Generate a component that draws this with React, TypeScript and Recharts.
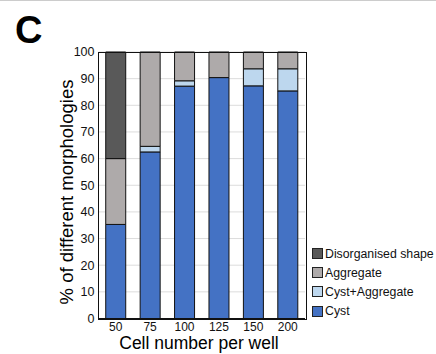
import { BarChart, Bar, XAxis, YAxis, CartesianGrid } from "recharts";

const cellNumbers = ["50", "75", "100", "125", "150", "200"];
const cyst = [35.3, 62.5, 87.2, 90.4, 87.3, 85.4];
const cystAggregate = [0, 2.1, 2, 0, 6.4, 8.3];
const aggregate = [24.7, 35.4, 10.8, 9.6, 6.3, 6.3];
const disorganised = [40, 0, 0, 0, 0, 0];
const yTicks = [0, 10, 20, 30, 40, 50, 60, 70, 80, 90, 100];

const SERIES = [
  { key: "cyst", name: "Cyst", color: "#4472C4" },
  { key: "cystAggregate", name: "Cyst+Aggregate", color: "#BDD7EE" },
  { key: "aggregate", name: "Aggregate", color: "#AEAAAA" },
  { key: "disorganised", name: "Disorganised shape", color: "#595959" },
];

const data = cellNumbers.map((c, i) => ({
  cells: c,
  cyst: cyst[i],
  cystAggregate: cystAggregate[i],
  aggregate: aggregate[i],
  disorganised: disorganised[i],
}));

const FONT = "'Liberation Sans', Arial, sans-serif";

// plot box (matches chart margins below)
const PLOT = { left: 98.5, top: 52, right: 305, bottom: 318.5 };

// legend drawn in reverse order like the original figure
const LegendBox = () => (
  <div style={{ position: "absolute", left: 312, top: 243, fontSize: 12.3, color: "#111" }}>
    {[...SERIES].reverse().map((s) => (
      <div key={s.key} style={{ display: "flex", alignItems: "center", height: 19.2, whiteSpace: "nowrap" }}>
        <span
          style={{
            width: 11,
            height: 11,
            background: s.color,
            border: "1px solid #222",
            boxSizing: "border-box",
            marginRight: 2,
          }}
        />
        {s.name}
      </div>
    ))}
  </div>
);

export default function App() {
  return (
    <div
      style={{
        position: "absolute",
        left: 0,
        top: 0,
        width: 436,
        height: 354,
        background: "#fff",
        borderTop: "1px solid #ccc",
        boxSizing: "border-box",
        fontFamily: FONT,
        overflow: "hidden",
      }}
    >
      <div
        style={{ position: "absolute", left: 15, top: 10, fontSize: 38, fontWeight: "bold", lineHeight: 1 }}
      >
        C
      </div>
      <div
        style={{
          position: "absolute",
          left: 67,
          top: 191,
          transform: "translate(-50%, -50%) rotate(-90deg)",
          fontSize: 18.5,
          whiteSpace: "nowrap",
        }}
      >
        % of different morphologies
      </div>
      <div
        style={{
          position: "absolute",
          left: 199,
          top: 343,
          transform: "translate(-50%, -50%)",
          fontSize: 17.5,
          lineHeight: 1,
          whiteSpace: "nowrap",
        }}
      >
        Cell number per well
      </div>
      <div style={{ position: "absolute", left: 0, top: -1 }}>
        <BarChart
          width={436}
          height={354}
          data={data}
          barCategoryGap="21%"
          margin={{ top: PLOT.top, right: 436 - PLOT.right, bottom: 354 - PLOT.bottom - 20, left: 0 }}
        >
          <CartesianGrid vertical={false} stroke="#dcdcdc" />
          <XAxis
            dataKey="cells"
            height={20}
            tickLine={false}
            tickSize={0}
            axisLine={{ stroke: "#111" }}
            tick={{ fontSize: 12, fill: "#111", fontFamily: FONT }}
            tickMargin={4}
          />
          <YAxis
            width={PLOT.left}
            domain={[0, 100]}
            ticks={yTicks}
            interval={0}
            tickLine={false}
            tickSize={0}
            axisLine={{ stroke: "#111" }}
            tick={{ fontSize: 12.5, fill: "#111", fontFamily: FONT }}
            tickMargin={4}
          />
          {SERIES.map((s) => (
            <Bar
              key={s.key}
              dataKey={s.key}
              name={s.name}
              stackId="a"
              fill={s.color}
              stroke="#111"
              strokeWidth={1}
              isAnimationActive={false}
            />
          ))}
        </BarChart>
      </div>
      {/* frame around the plot area */}
      <div
        style={{
          position: "absolute",
          left: PLOT.left - 0.5,
          top: PLOT.top - 1.5,
          width: PLOT.right - PLOT.left,
          height: PLOT.bottom - PLOT.top,
          border: "1px solid #111",
          boxSizing: "content-box",
          pointerEvents: "none",
        }}
      />
      <LegendBox />
    </div>
  );
}
